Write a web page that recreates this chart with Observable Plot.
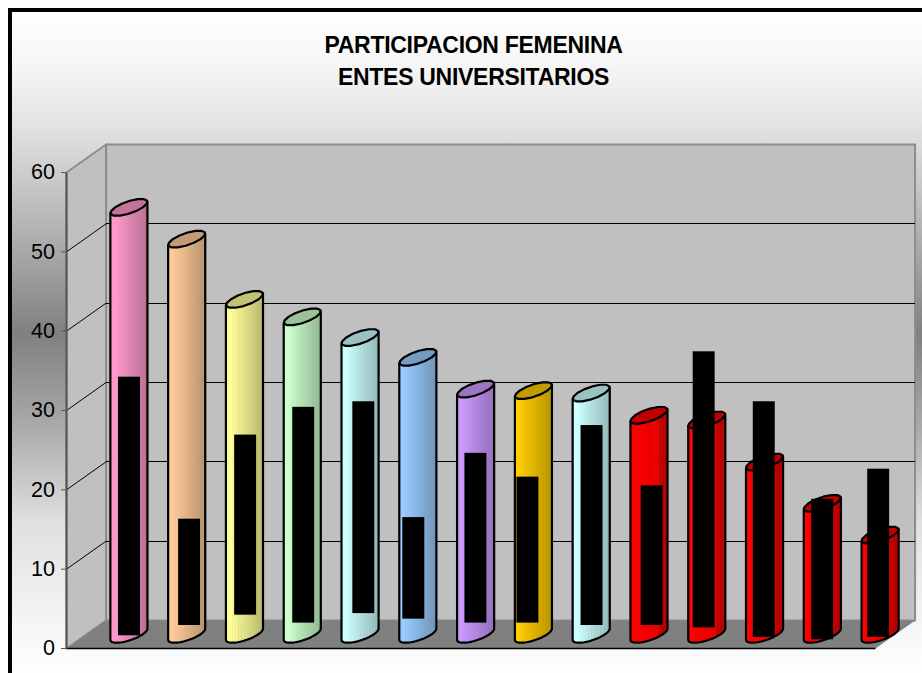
<!DOCTYPE html>
<html><head><meta charset="utf-8">
<script src="https://cdn.jsdelivr.net/npm/d3@7"></script>
<script src="https://cdn.jsdelivr.net/npm/@observablehq/plot@0.6"></script>
<style>
html,body{margin:0;padding:0;background:#fff;overflow:hidden}
#chart{position:relative;width:922px;height:673px;overflow:hidden;font-family:"Liberation Sans",Arial,sans-serif}
#panel{position:absolute;left:8px;top:8px;width:940px;height:700px;border:4px solid #000;
background:linear-gradient(to bottom,#fff 0px,#f4f4f4 60px,#e0e0e0 120px,#a8a8a8 240px,#808080 322px,#a8a8a8 410px,#e0e0e0 510px,#fbfbfb 640px,#fff 665px)}
.t{position:absolute;left:0;width:947px;text-align:center;font-weight:bold;font-size:23px;letter-spacing:-.29px;line-height:26px;color:#000}
svg{position:absolute;left:0;top:0;overflow:visible}
</style></head><body>
<div id="chart"><div id="panel"></div>
<div class="t" style="top:32px">PARTICIPACION FEMENINA</div>
<div class="t" style="top:64px">ENTES UNIVERSITARIOS</div>
</div>
<script>
// Series
const cylinderValues = [53.8,49.8,42.2,40.0,37.4,34.9,30.9,30.7,30.4,27.6,27.0,21.7,16.5,12.5];
const blackLow  = [1.6,2.9,4.2,3.2,4.4,3.7,3.2,3.2,2.9,2.9,2.6,1.4,1.1,1.4];
const blackHigh = [34.2,16.3,26.9,30.4,31.1,16.5,24.6,21.6,28.1,20.5,37.4,31.1,18.8,22.6];
const blackPosition = [1.09,2.13,3.10,4.105,5.145,6.01,7.085,7.985,9.095,10.135,11.035,12.075,13.085,14.055];
const barColors = ["#FF99CC","#FFCC99","#FFFF99","#CCFFCC","#CCFFFF","#99CCFF","#CC99FF","#FFCC00","#CCFFFF","#FF0000","#FF0000","#FF0000","#FF0000","#FF0000"];
const yTicks = [0,10,20,30,40,50,60];
const gridValues = [10,20,30,40,50];
const categoryCount = 14;
// 3-D box depth, in axis units
const depthX = 0.685, depthY = 3.53;
const barShift = 1.08, baseY = 1.8;
const rx = 0.24, rdx = 0.213, rdy = 1.07;

const ell = (c, v, t) => ({x: c + rx*Math.cos(t) + rdx*Math.sin(t), y: v + rdy*Math.sin(t)});
const theta = Math.atan2(rdx, rx), tLeft = Math.PI + theta, tRight = theta;
const closed = p => [...p, p[0]];
const poly = (pts, o) => Plot.line(pts, {x:"x", y:"y", strokeLinejoin:"round", ...o});
const shade = (base, u, isRed) => {
  if (isRed) return u < 0.76 ? d3.interpolateRgb("#FF0000","#E80000")(u/0.76) : (u < 0.84 ? "#C80000" : "#B80000");
  const c = d3.rgb(base), d = d3.rgb(c.r*.72, c.g*.72, c.b*.72);
  return d3.interpolateRgb(c, d)(Math.max(0,(u-.12)/.88));
};
// lower arc of the base, from the left silhouette point round the front to the right one
const lowerAt = (c, v, s) => ell(c, v, tLeft + Math.PI * s);

const marks = [];
// walls and floor
marks.push(poly(closed([{x:depthX,y:depthY},{x:categoryCount+depthX,y:depthY},{x:categoryCount+depthX,y:60+depthY},{x:depthX,y:60+depthY}]),{fill:"#C0C0C0",stroke:"#8c8c8c",strokeWidth:2}));
marks.push(poly(closed([{x:0,y:0},{x:depthX,y:depthY},{x:depthX,y:60+depthY},{x:0,y:60}]),{fill:"#C0C0C0",stroke:"#8c8c8c",strokeWidth:2}));
marks.push(Plot.link(gridValues,{x1:depthX,x2:categoryCount+depthX,y1:d=>d+depthY,y2:d=>d+depthY,stroke:"#000",strokeWidth:1,shapeRendering:"crispEdges"}));
marks.push(Plot.link(gridValues,{x1:0,x2:depthX,y1:d=>d,y2:d=>d+depthY,stroke:"#000",strokeWidth:1}));
marks.push(poly(closed([{x:0,y:0},{x:categoryCount,y:0},{x:categoryCount+depthX,y:depthY},{x:depthX,y:depthY}]),{fill:"#808080",stroke:"none"}));
marks.push(Plot.link([0],{x1:0,x2:categoryCount,y1:0,y2:0,stroke:"#000",strokeWidth:1.5}));
marks.push(Plot.link([0],{x1:0,x2:0,y1:0,y2:60,stroke:"#555",strokeWidth:2}));

// cylinders
cylinderValues.forEach((h,i)=>{
  const c = i + barShift, top = baseY + h, col = barColors[i], isRed = i >= 9;
  const n = 12, R = Math.hypot(rx,rdx);
  const slope = ell(0,0,tRight).y / R;
  const arcY = x => {
    let best=null,bd=1e9;
    for(let j=0;j<=60;j++){const p=lowerAt(c,baseY,j/60);const dd=Math.abs(p.x-x);if(dd<bd){bd=dd;best=p;}}
    return best.y;
  };
  for (let k=0;k<n;k++){
    const a=k/n, b=Math.min((k+1.15)/n,1), N=4, pts=[];
    const xs = s => c - R + 2*R*s;
    for(let j=0;j<=N;j++){const x=xs(a+(b-a)*j/N);pts.push({x,y:arcY(x)});}
    for(let j=N;j>=0;j--){const x=xs(a+(b-a)*j/N);pts.push({x,y:top+(x-c)*slope});}
    marks.push(poly(closed(pts),{fill:shade(col,(k+.5)/n,isRed),stroke:"none"}));
  }
  // outline
  const out=[ell(c,top,tLeft)];
  for(let j=0;j<=24;j++) out.push(lowerAt(c,baseY,j/24));
  out.push(ell(c,top,tRight));
  marks.push(poly(out,{fill:"none",stroke:"#000",strokeWidth:2.2}));
  // cap
  const cap=d3.range(14).map(j=>ell(c,top,j/14*2*Math.PI));
  const base=d3.rgb(col);
  const capCol=isRed?"#C00000":d3.rgb(base.r*.76,base.g*.76,base.b*.76).formatHex();
  marks.push(poly(closed(cap),{fill:capCol,stroke:"#000",strokeWidth:2.2}));
});
// black floating bars
const idx = d3.range(blackLow.length);
marks.push(Plot.rect(idx,{x1:i=>blackPosition[i]-0.19,x2:i=>blackPosition[i]+0.19,y1:i=>blackLow[i],y2:i=>blackHigh[i],fill:"#000"}));
// axis
marks.push(Plot.axisY(yTicks,{anchor:"left",tickSize:5,tickPadding:6.5,fontSize:21.5,label:null,stroke:"#555",fill:"#000",fontFamily:"Liberation Sans"}));

const svg = Plot.plot({
  width:922,height:673,
  marginLeft:66,marginRight:47,marginTop:172,marginBottom:25,
  style:{background:"transparent",overflow:"visible"},
  x:{domain:[0,categoryCount],axis:null},
  y:{domain:[0,60],label:null},
  marks
});
document.getElementById("chart").appendChild(svg);
</script></body></html>
